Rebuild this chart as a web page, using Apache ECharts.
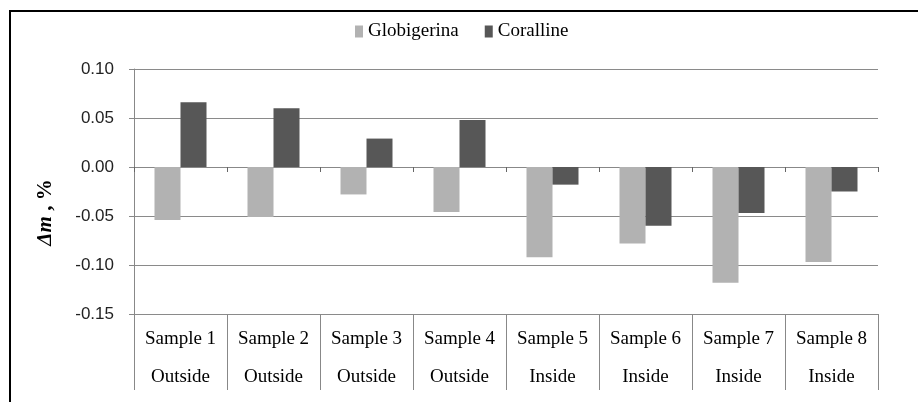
<!DOCTYPE html>
<html>
<head>
<meta charset="utf-8">
<script src="https://cdn.jsdelivr.net/npm/echarts@6/dist/echarts.min.js"></script>
<style>
  html, body { margin: 0; padding: 0; background: #fff; }
  #chart { width: 918px; height: 402px; }
</style>
</head>
<body>
<div id="chart"></div>
<script>
// data
const samples = ['Sample 1', 'Sample 2', 'Sample 3', 'Sample 4', 'Sample 5', 'Sample 6', 'Sample 7', 'Sample 8'];
const locations = ['Outside', 'Outside', 'Outside', 'Outside', 'Inside', 'Inside', 'Inside', 'Inside'];
const globigerina = [-0.054, -0.051, -0.028, -0.046, -0.092, -0.078, -0.118, -0.097];
const coralline = [0.066, 0.060, 0.029, 0.048, -0.018, -0.060, -0.047, -0.025];

const tableLabels = samples.map((s, i) => s + '\n' + locations[i]);
const serif = '"Liberation Serif", "DejaVu Serif", serif';

var myChart = echarts.init(document.getElementById('chart'));
let option = {
  animation: false,
  backgroundColor: '#fff',
  graphic: [
    {
      type: 'rect',
      shape: { x: 10, y: 11, width: 960, height: 500 },
      style: { fill: 'none', stroke: '#000', lineWidth: 2 },
      silent: true
    }
  ],
  legend: {
    left: 350,
    top: 17,
    itemWidth: 8,
    itemHeight: 12,
    itemGap: 26,
    icon: 'rect',
    textStyle: { fontFamily: serif, fontSize: 19, color: '#000' },
    data: ['Globigerina', 'Coralline']
  },
  grid: {
    left: 134,
    right: 40,
    top: 69,
    bottom: 88
  },
  xAxis: [
    {
      type: 'category',
      data: samples,
      position: 'bottom',
      axisLine: { onZero: true, lineStyle: { color: '#888', width: 1 } },
      axisTick: { show: true, length: 5, lineStyle: { color: '#666' } },
      axisLabel: { show: false },
      splitLine: { show: false }
    },
    {
      type: 'category',
      data: tableLabels,
      position: 'bottom',
      axisLine: { show: false, onZero: false },
      axisTick: { show: true, interval: 0, length: 76, lineStyle: { color: '#888' } },
      axisLabel: {
        interval: 0,
        margin: 6,
        lineHeight: 38,
        fontFamily: serif,
        fontSize: 19,
        color: '#000'
      }
    }
  ],
  yAxis: {
    type: 'value',
    min: -0.15,
    max: 0.1,
    interval: 0.05,
    name: '{a|Δm}{b| , %}',
    nameLocation: 'middle',
    nameRotate: 90,
    nameGap: 78,
    nameTextStyle: {
      padding: [0, 42, 0, 0],
      rich: {
        a: { fontFamily: serif, fontSize: 21, fontWeight: 'bold', fontStyle: 'italic', color: '#000' },
        b: { fontFamily: serif, fontSize: 21, fontWeight: 'bold', color: '#000' }
      }
    },
    axisLine: { show: true, lineStyle: { color: '#888' } },
    axisTick: { show: true, length: 5, lineStyle: { color: '#888' } },
    axisLabel: {
      margin: 20,
      fontFamily: '"Liberation Sans", Arial, sans-serif',
      fontSize: 17,
      color: '#222',
      formatter: (v) => v.toFixed(2)
    },
    splitLine: { lineStyle: { color: '#8a8a8a', width: 1 } }
  },
  series: [
    {
      name: 'Globigerina',
      type: 'bar',
      xAxisIndex: 0,
      barWidth: 26,
      barGap: '0%',
      itemStyle: { color: '#b2b2b2' },
      data: globigerina
    },
    {
      name: 'Coralline',
      type: 'bar',
      xAxisIndex: 0,
      barWidth: 26,
      barGap: '0%',
      itemStyle: { color: '#575757' },
      data: coralline
    }
  ]
};
option && myChart.setOption(option);
</script>
</body>
</html>
